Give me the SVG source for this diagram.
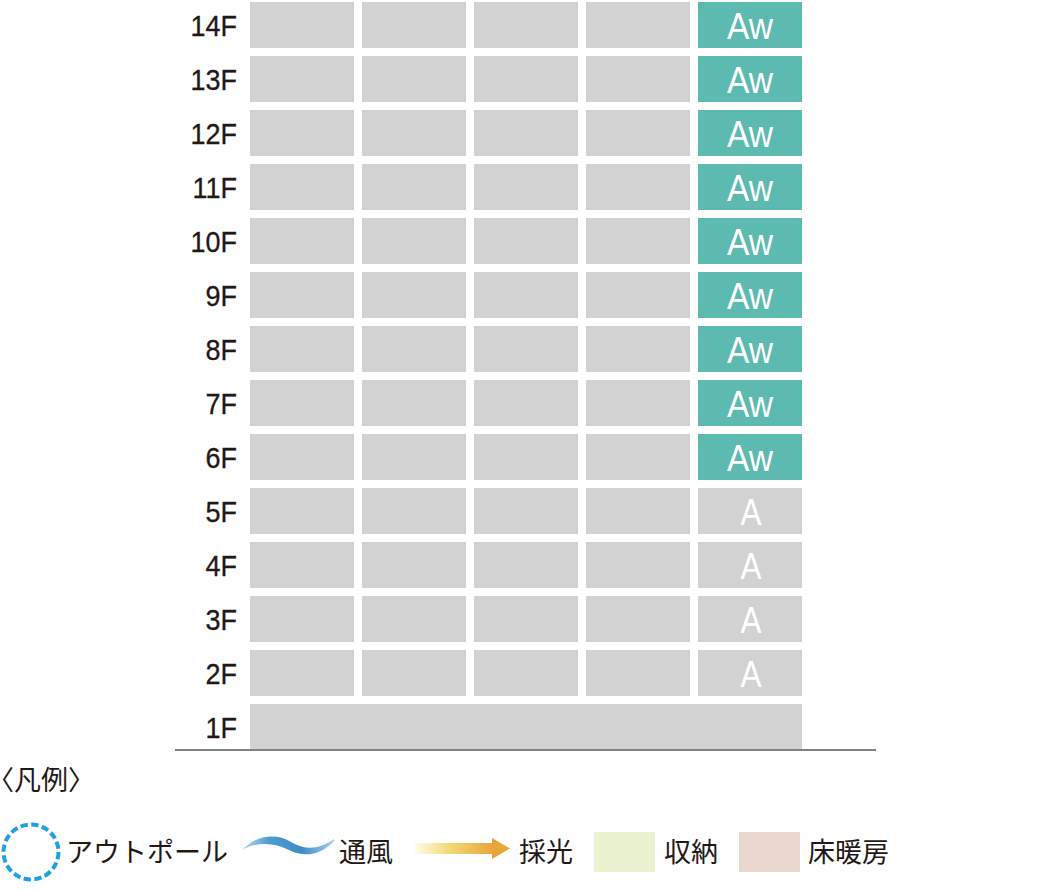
<svg xmlns="http://www.w3.org/2000/svg" width="1060" height="890" viewBox="0 0 1060 890">
<defs>
<style>
.c{fill:#d2d2d2}
.t{fill:#5cbab0}
.fl{font-family:"Liberation Sans",Arial,sans-serif;font-size:29px;fill:#231815;stroke:#231815;stroke-width:0.3;text-anchor:end}
.u{font-family:"Liberation Sans",Arial,sans-serif;font-size:37px;fill:#ffffff;text-anchor:middle}
.lg{font-family:"Noto Sans CJK JP","Noto Sans",sans-serif;font-size:27px;fill:#231815}
</style>
<linearGradient id="wave" x1="242" y1="0" x2="334" y2="0" gradientUnits="userSpaceOnUse">
<stop offset="0" stop-color="#b5d7ef"/>
<stop offset="0.3" stop-color="#4f9bd0"/>
<stop offset="0.65" stop-color="#3d8cc5"/>
<stop offset="1" stop-color="#a9d1ee"/>
</linearGradient>
<linearGradient id="sun" x1="415" y1="0" x2="494" y2="0" gradientUnits="userSpaceOnUse">
<stop offset="0" stop-color="#fffbe8"/>
<stop offset="0.45" stop-color="#f2d873"/>
<stop offset="1" stop-color="#e9a43a"/>
</linearGradient>
</defs>
<g id="floors">
<g id="f14"><rect class="c" x="250" y="2" width="104" height="46"/><rect class="c" x="362" y="2" width="104" height="46"/><rect class="c" x="474" y="2" width="104" height="46"/><rect class="c" x="586" y="2" width="104" height="46"/><rect class="t" x="698" y="2" width="104" height="46"/><text class="fl" transform="translate(237,36) scale(0.93,1)">14F</text><text class="u" x="750" y="39" textLength="46" lengthAdjust="spacingAndGlyphs">Aw</text></g>
<g id="f13"><rect class="c" x="250" y="56" width="104" height="46"/><rect class="c" x="362" y="56" width="104" height="46"/><rect class="c" x="474" y="56" width="104" height="46"/><rect class="c" x="586" y="56" width="104" height="46"/><rect class="t" x="698" y="56" width="104" height="46"/><text class="fl" transform="translate(237,90) scale(0.93,1)">13F</text><text class="u" x="750" y="93" textLength="46" lengthAdjust="spacingAndGlyphs">Aw</text></g>
<g id="f12"><rect class="c" x="250" y="110" width="104" height="46"/><rect class="c" x="362" y="110" width="104" height="46"/><rect class="c" x="474" y="110" width="104" height="46"/><rect class="c" x="586" y="110" width="104" height="46"/><rect class="t" x="698" y="110" width="104" height="46"/><text class="fl" transform="translate(237,144) scale(0.93,1)">12F</text><text class="u" x="750" y="147" textLength="46" lengthAdjust="spacingAndGlyphs">Aw</text></g>
<g id="f11"><rect class="c" x="250" y="164" width="104" height="46"/><rect class="c" x="362" y="164" width="104" height="46"/><rect class="c" x="474" y="164" width="104" height="46"/><rect class="c" x="586" y="164" width="104" height="46"/><rect class="t" x="698" y="164" width="104" height="46"/><text class="fl" transform="translate(237,198) scale(0.93,1)">11F</text><text class="u" x="750" y="201" textLength="46" lengthAdjust="spacingAndGlyphs">Aw</text></g>
<g id="f10"><rect class="c" x="250" y="218" width="104" height="46"/><rect class="c" x="362" y="218" width="104" height="46"/><rect class="c" x="474" y="218" width="104" height="46"/><rect class="c" x="586" y="218" width="104" height="46"/><rect class="t" x="698" y="218" width="104" height="46"/><text class="fl" transform="translate(237,252) scale(0.93,1)">10F</text><text class="u" x="750" y="255" textLength="46" lengthAdjust="spacingAndGlyphs">Aw</text></g>
<g id="f9"><rect class="c" x="250" y="272" width="104" height="46"/><rect class="c" x="362" y="272" width="104" height="46"/><rect class="c" x="474" y="272" width="104" height="46"/><rect class="c" x="586" y="272" width="104" height="46"/><rect class="t" x="698" y="272" width="104" height="46"/><text class="fl" transform="translate(237,306) scale(0.93,1)">9F</text><text class="u" x="750" y="309" textLength="46" lengthAdjust="spacingAndGlyphs">Aw</text></g>
<g id="f8"><rect class="c" x="250" y="326" width="104" height="46"/><rect class="c" x="362" y="326" width="104" height="46"/><rect class="c" x="474" y="326" width="104" height="46"/><rect class="c" x="586" y="326" width="104" height="46"/><rect class="t" x="698" y="326" width="104" height="46"/><text class="fl" transform="translate(237,360) scale(0.93,1)">8F</text><text class="u" x="750" y="363" textLength="46" lengthAdjust="spacingAndGlyphs">Aw</text></g>
<g id="f7"><rect class="c" x="250" y="380" width="104" height="46"/><rect class="c" x="362" y="380" width="104" height="46"/><rect class="c" x="474" y="380" width="104" height="46"/><rect class="c" x="586" y="380" width="104" height="46"/><rect class="t" x="698" y="380" width="104" height="46"/><text class="fl" transform="translate(237,414) scale(0.93,1)">7F</text><text class="u" x="750" y="417" textLength="46" lengthAdjust="spacingAndGlyphs">Aw</text></g>
<g id="f6"><rect class="c" x="250" y="434" width="104" height="46"/><rect class="c" x="362" y="434" width="104" height="46"/><rect class="c" x="474" y="434" width="104" height="46"/><rect class="c" x="586" y="434" width="104" height="46"/><rect class="t" x="698" y="434" width="104" height="46"/><text class="fl" transform="translate(237,468) scale(0.93,1)">6F</text><text class="u" x="750" y="471" textLength="46" lengthAdjust="spacingAndGlyphs">Aw</text></g>
<g id="f5"><rect class="c" x="250" y="488" width="104" height="46"/><rect class="c" x="362" y="488" width="104" height="46"/><rect class="c" x="474" y="488" width="104" height="46"/><rect class="c" x="586" y="488" width="104" height="46"/><rect class="c" x="698" y="488" width="104" height="46"/><text class="fl" transform="translate(237,522) scale(0.93,1)">5F</text><text class="u" x="751" y="525" textLength="21" lengthAdjust="spacingAndGlyphs">A</text></g>
<g id="f4"><rect class="c" x="250" y="542" width="104" height="46"/><rect class="c" x="362" y="542" width="104" height="46"/><rect class="c" x="474" y="542" width="104" height="46"/><rect class="c" x="586" y="542" width="104" height="46"/><rect class="c" x="698" y="542" width="104" height="46"/><text class="fl" transform="translate(237,576) scale(0.93,1)">4F</text><text class="u" x="751" y="579" textLength="21" lengthAdjust="spacingAndGlyphs">A</text></g>
<g id="f3"><rect class="c" x="250" y="596" width="104" height="46"/><rect class="c" x="362" y="596" width="104" height="46"/><rect class="c" x="474" y="596" width="104" height="46"/><rect class="c" x="586" y="596" width="104" height="46"/><rect class="c" x="698" y="596" width="104" height="46"/><text class="fl" transform="translate(237,630) scale(0.93,1)">3F</text><text class="u" x="751" y="633" textLength="21" lengthAdjust="spacingAndGlyphs">A</text></g>
<g id="f2"><rect class="c" x="250" y="650" width="104" height="46"/><rect class="c" x="362" y="650" width="104" height="46"/><rect class="c" x="474" y="650" width="104" height="46"/><rect class="c" x="586" y="650" width="104" height="46"/><rect class="c" x="698" y="650" width="104" height="46"/><text class="fl" transform="translate(237,684) scale(0.93,1)">2F</text><text class="u" x="751" y="687" textLength="21" lengthAdjust="spacingAndGlyphs">A</text></g>
<g id="f1"><rect class="c" x="250" y="704" width="552" height="45"/><text class="fl" transform="translate(237,738) scale(0.93,1)">1F</text></g>
</g>
<g id="ground"><line x1="175" y1="750" x2="876" y2="750" stroke="#808080" stroke-width="2"/></g>
<g id="legend">
<text class="lg" x="-13" y="790">〈凡例〉</text>
<g id="lg-outpole"><circle cx="31" cy="852" r="27.5" fill="none" stroke="#1ea1e0" stroke-width="4" stroke-dasharray="7.3 3.5"/><text class="lg" x="66" y="862">アウトポール</text></g>
<g id="lg-wind"><path d="M242,850 C256,835 276,833 291,842 C306,851 320,849 334,839 L334,841 C321,855 305,858 289,850 C274,842 256,842 242,850 Z" fill="url(#wave)"/><text class="lg" x="339" y="862">通風</text></g>
<g id="lg-light"><rect x="415" y="843" width="78" height="11" fill="url(#sun)"/><polygon points="492,838 510,848.5 492,859" fill="#e9a43a"/><text class="lg" x="519" y="862">採光</text></g>
<g id="lg-storage"><rect x="594" y="832" width="61" height="40" fill="#eaf2d0"/><text class="lg" x="664" y="862">収納</text></g>
<g id="lg-heating"><rect x="739" y="832" width="61" height="40" fill="#ead8ce"/><text class="lg" x="808" y="862">床暖房</text></g>
</g>
</svg>
